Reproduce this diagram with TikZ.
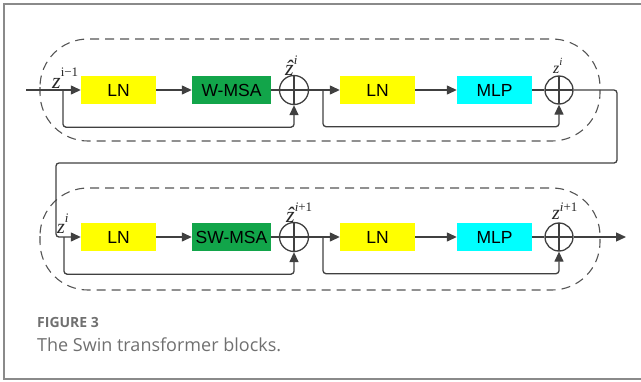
\documentclass[tikz,border=0pt]{standalone}
\usepackage{fontspec}
\usetikzlibrary{arrows.meta,calc,positioning}
\setmainfont{Liberation Sans}
\newfontfamily\capfont{Open Sans}
\newfontfamily\zfont{Liberation Serif}
\definecolor{linec}{HTML}{404040}
\definecolor{dashc}{HTML}{555555}
\definecolor{framec}{HTML}{8A8A8A}
\definecolor{captext}{HTML}{707070}
\definecolor{lnfill}{HTML}{FFFF00}
\definecolor{msafill}{HTML}{12A54A}
\definecolor{mlpfill}{HTML}{00FFFF}
\newcommand\supx[2]{\raisebox{#1}{\fontsize{13}{14}\selectfont #2}}

\begin{document}
\begin{tikzpicture}[x=1pt,y=-1pt,
    blk/.style={rectangle,minimum width=75pt,minimum height=28pt,inner sep=0pt,font=\fontsize{17.5}{19}\selectfont},
    sum/.style={circle,draw=linec,line width=1.3pt,minimum size=29pt,inner sep=0pt,
      path picture={\draw[linec,line width=1.3pt] (path picture bounding box.north) -- (path picture bounding box.south)
        (path picture bounding box.west) -- (path picture bounding box.east);}},
    wire/.style={line width=1.3pt,color=linec,rounded corners=3pt},
    arr/.style={-{Triangle[length=10pt,width=9pt]},line width=1.3pt,color=linec},
    block/.style={draw=dashc,line width=1.1pt,dash pattern=on 9pt off 6pt,rounded corners=48pt},
    lbl/.style={inner sep=0pt,anchor=base west,text=linec!60!black,font=\zfont\fontsize{22}{24}\selectfont}
  ]
  \useasboundingbox (0,0) rectangle (641,381);
  \draw[framec,line width=1.5pt] (650,4) -- (4,4) -- (4,379) -- (650,379);

  % first block
  \draw[block] (40,39) rectangle (600,141);
  \node[blk,fill=lnfill] (ln1) at (118.5,90) {LN};
  \node[blk,fill=msafill,minimum width=79pt] (wmsa) at (231.5,90) {W-MSA};
  \node[sum] (add1) at (294,90) {};
  \node[blk,fill=lnfill] (ln2) at (377.5,90) {LN};
  \node[blk,fill=mlpfill] (mlp1) at (494.5,90) {MLP};
  \node[sum,minimum size=28pt] (add2) at (559,90) {};
  \coordinate (in1) at (26,90);
  \coordinate (br1) at (63,90);
  \coordinate (br2) at (323,90);
  \draw[arr] (in1) -- (ln1);
  \draw[arr,rounded corners=3pt] (br1) |- ($(add1.south)+(0,22)$) -- (add1.south);
  \draw[arr] (ln1) -- (wmsa);
  \draw[wire] (wmsa) -- (add1);
  \draw[arr] (add1) -- (ln2);
  \draw[arr,rounded corners=3pt] (br2) |- ($(add2.south)+(0,22)$) -- (add2.south);
  \draw[arr] (ln2) -- (mlp1);
  \draw[wire] (mlp1) -- (add2);

  % second block
  \draw[block] (40,188) rectangle (600,290);
  \node[blk,fill=lnfill] (ln3) at (118.5,237) {LN};
  \node[blk,fill=msafill,minimum width=79pt] (swmsa) at (231.5,237) {SW-MSA};
  \node[sum] (add3) at (294,237) {};
  \node[blk,fill=lnfill] (ln4) at (377.5,237) {LN};
  \node[blk,fill=mlpfill] (mlp2) at (494.5,237) {MLP};
  \node[sum,minimum size=28pt] (add4) at (559,237) {};
  \coordinate (br3) at (64,237);
  \coordinate (br4) at (323,237);
  \coordinate (out) at (626,237);
  \draw[arr,rounded corners=3pt] (add2.east) -- (617,90) -- (617,163) -- (56,163) -- (56,237) -- (ln3.west);
  \draw[arr,rounded corners=3pt] (br3) |- ($(add3.south)+(0,22)$) -- (add3.south);
  \draw[arr] (ln3) -- (swmsa);
  \draw[wire] (swmsa) -- (add3);
  \draw[arr] (add3) -- (ln4);
  \draw[arr,rounded corners=3pt] (br4) |- ($(add4.south)+(0,22)$) -- (add4.south);
  \draw[arr] (ln4) -- (mlp2);
  \draw[wire] (mlp2) -- (add4);
  \draw[arr] (add4) -- (out);

  % labels
  \node[lbl] (zin) at (52,88) {\itshape z\upshape\supx{12pt}{i−1}};
  \node[lbl] (zhat1) at (285,75) {\itshape ẑ\supx{11pt}{i}};
  \node[lbl,font=\zfont\fontsize{16}{17}\selectfont] (zout1) at (553,73) {\itshape z\supx{8pt}{\fontsize{11}{12}\selectfont i}};
  \node[lbl,font=\zfont\fontsize{20}{22}\selectfont] (zin2) at (57,233) {\itshape z\supx{11pt}{i}};
  \node[lbl] (zhat2) at (286,222) {\itshape ẑ\supx{11pt}{i\upshape +1}};
  \node[lbl,font=\zfont\fontsize{20}{22}\selectfont] (zout2) at (552,219) {\itshape z\supx{8pt}{i\upshape +1}};

  % caption
  \node[anchor=base west,inner sep=0pt,text=captext,font=\capfont\bfseries\fontsize{14}{15}\selectfont] (fig) at (37,327) {FIGURE 3};
  \node[anchor=base west,inner sep=0pt,text=captext,font=\capfont\fontsize{18}{20}\selectfont] (cap) at (37,351) {The Swin transformer blocks.};
\end{tikzpicture}
\end{document}
